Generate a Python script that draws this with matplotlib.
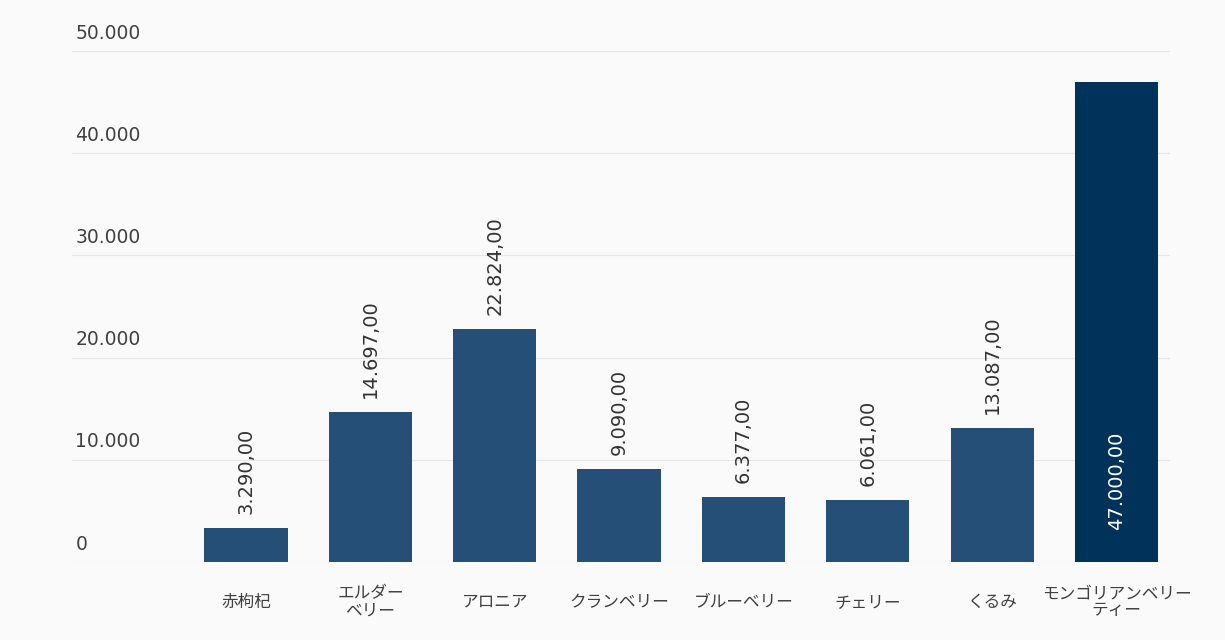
import matplotlib.pyplot as plt
from matplotlib.transforms import blended_transform_factory

categories = ['赤枸杞', 'エルダー\nベリー', 'アロニア', 'クランベリー', 'ブルーベリー',
              'チェリー', 'くるみ', 'モンゴリアンベリー\nティー']
values = [3290, 14697, 22824, 9090, 6377, 6061, 13087, 47000]
y_ticks = [0, 10000, 20000, 30000, 40000, 50000]


def fmt_de(v, decimals):
    s = f"{v:,.{decimals}f}"
    return s.replace(',', '#').replace('.', ',').replace('#', '.')


plt.rcParams['font.family'] = ['Noto Sans CJK JP', 'DejaVu Sans']
num_font = ['DejaVu Sans']

fig = plt.figure(figsize=(12.25, 6.4), dpi=100)
fig.patch.set_facecolor('#fafafa')
ax = fig.add_axes([0.0588, 0.122, 0.8963, 0.798])
ax.set_facecolor('none')

x = list(range(len(categories)))
top = max(values)
colors = ['#00325a' if v == top else '#264f78' for v in values]
ax.bar(x, values, width=0.67, color=colors, zorder=2)

ax.set_xlim(-1.4, 7.43)
ax.set_ylim(0, 50000)

for t in y_ticks:
    ax.axhline(t, color='#e6e6e6', linewidth=0.8, zorder=1)

trans = blended_transform_factory(ax.transAxes, ax.transData)
for t in y_ticks:
    ax.annotate(fmt_de(t, 0), xy=(0.003, t), xycoords=trans,
                xytext=(0, 6), textcoords='offset points',
                ha='left', va='bottom', fontsize=13.5, color='#404040',
                family=num_font)

for xi, v in zip(x, values):
    if v == top:
        ax.annotate(fmt_de(v, 2), xy=(xi, 0), xytext=(0, 23),
                    textcoords='offset points', rotation=90,
                    ha='center', va='bottom', fontsize=14, color='white',
                    family=num_font)
    else:
        ax.annotate(fmt_de(v, 2), xy=(xi, v), xytext=(0, 10),
                    textcoords='offset points', rotation=90,
                    ha='center', va='bottom', fontsize=14, color='#333333',
                    family=num_font)

ax.set_yticks([])
ax.set_xticks(x)
ax.set_xticklabels(categories, fontsize=12, color='#404040', linespacing=1.0)
for lab in ax.get_xticklabels():
    lab.set_va('center')
    lab.set_ha('center')
ax.tick_params(axis='x', length=0, pad=29)

for s in ax.spines.values():
    s.set_visible(False)

fig.savefig('out.png', dpi=100, facecolor=fig.get_facecolor())
